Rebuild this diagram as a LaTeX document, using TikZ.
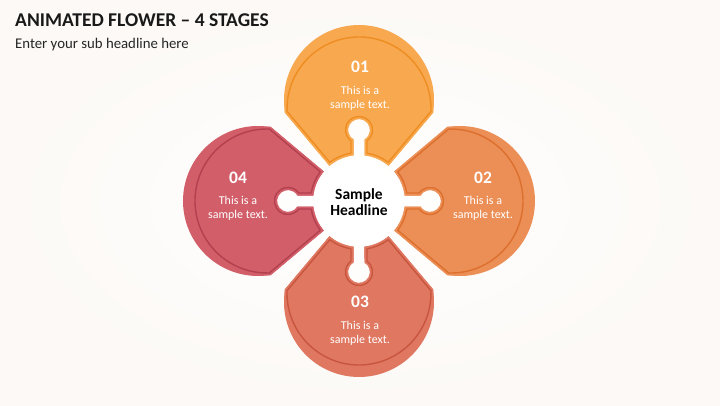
\documentclass[tikz,border=0pt]{standalone}
\usepackage{fontspec}
\setmainfont{Carlito}
\usepackage{tikz}
\definecolor{bgwarm}{HTML}{FCF9F6}
\definecolor{topfill}{HTML}{F8A84F}
\definecolor{topline}{HTML}{EE8D22}
\definecolor{rightfill}{HTML}{EC8F56}
\definecolor{rightline}{HTML}{DC6F2E}
\definecolor{botfill}{HTML}{DF7761}
\definecolor{botline}{HTML}{C8553E}
\definecolor{leftfill}{HTML}{D25E69}
\definecolor{leftline}{HTML}{B2404F}
\tikzset{
  ttl/.style    ={anchor=base west, inner sep=0pt, font=\fontsize{19.5}{22}\selectfont\bfseries, text=black!90},
  subttl/.style ={anchor=base west, inner sep=0pt, font=\fontsize{14.8}{17}\selectfont, text=black!85},
  numlbl/.style ={inner sep=0pt, font=\fontsize{17.5}{20}\selectfont\bfseries, text=white},
  bodylbl/.style={inner sep=0pt, align=center, font=\fontsize{12}{14}\selectfont, text=white},
  hub/.style    ={circle, fill=white, minimum size=86pt, inner sep=0pt, align=center,
                  font=\fontsize{15.5}{18}\selectfont\bfseries, text=black},
  rim/.style    ={line width=1.4pt, line join=round},
}
% one petal pointing up: outer circle at (0,#1) radius #2, inner cut inset by #3
\newcommand{\petal}[4]{%
  \pgfmathsetmacro\ptri{46+#3}%
  \pgfmathsetmacro\ptrh{11+#3}%
  \pgfmathsetmacro\pts{5.5+#3}%
  \pgfmathsetmacro\ptnx{#3*cos(140)}%
  \pgfmathsetmacro\ptny{#3*sin(140)}%
  \pgfmathsetmacro\ptQt{sqrt(\ptri*\ptri-#3*#3)}%
  \pgfmathsetmacro\ptQx{\ptnx+\ptQt*cos(50)}%
  \pgfmathsetmacro\ptQy{\ptny+\ptQt*sin(50)}%
  \pgfmathsetmacro\ptPt{#1*sin(50)+sqrt(#2*#2-(#1*cos(50)-#3)^2)}%
  \pgfmathsetmacro\ptPx{\ptnx+\ptPt*cos(50)}%
  \pgfmathsetmacro\ptPy{\ptny+\ptPt*sin(50)}%
  \pgfmathsetmacro\ptthP{atan2(\ptPy-#1,\ptPx)}%
  \pgfmathsetmacro\ptthPb{180-(\ptthP)}%
  \pgfmathsetmacro\ptthQ{atan2(\ptQy,\ptQx)}%
  \pgfmathsetmacro\ptthQb{180-(\ptthQ)}%
  \pgfmathsetmacro\ptsig{asin(\pts/\ptri)}%
  \pgfmathsetmacro\ptbet{asin(\pts/\ptrh)}%
  \pgfmathsetmacro\ptyb{71-\ptrh*cos(\ptbet)}%
  \pgfmathsetmacro\ptys{sqrt(\ptri*\ptri-\pts*\pts)}%
  \path[#4] (\ptPx,\ptPy) arc[start angle=\ptthP, end angle=\ptthPb, radius=#2pt]
    -- (-\ptQx,\ptQy) arc[start angle=\ptthQb, end angle=90+\ptsig, radius=\ptri pt]
    -- (-\pts,\ptyb) arc[start angle=270-\ptbet, end angle=-90+\ptbet, radius=\ptrh pt]
    -- (\pts,\ptys) arc[start angle=90-\ptsig, end angle=\ptthQ, radius=\ptri pt]
    -- cycle;%
}
\newcommand{\petalgroup}[3]{%
  \begin{scope}[rotate=#1]
    \petal{101}{75}{0}{fill=#2}
    \petal{92}{74.5}{0}{fill=#2}
    \petal{92}{72}{2.5}{draw=#3, rim}
  \end{scope}%
}

\begin{document}
\begin{tikzpicture}[x=1pt, y=1pt]
  \useasboundingbox (-359,-204) rectangle (361,201);
  \shade[inner color=white, outer color=bgwarm] (-359,-204) rectangle (361,201);

  \node[ttl]    (title) at (-344,174.3) {ANIMATED FLOWER – 4 STAGES};
  \node[subttl] (sub)   at (-344,152.7) {Enter your sub headline here};

  % petals
  \petalgroup{0}{topfill}{topline}
  \petalgroup{-90}{rightfill}{rightline}
  \petalgroup{180}{botfill}{botline}
  \petalgroup{90}{leftfill}{leftline}

  \node[hub] (head) at (0,-1) {Sample\\[-2pt]Headline};

  \node[numlbl]  (n1) at (1,134.3)  {01};
  \node[bodylbl] (t1) at (1,103)    {This is a\\sample text.};
  \node[numlbl]  (n2) at (124,23)   {02};
  \node[bodylbl] (t2) at (124,-7.7) {This is a\\sample text.};
  \node[numlbl]  (n3) at (1,-101)   {03};
  \node[bodylbl] (t3) at (1,-132.3) {This is a\\sample text.};
  \node[numlbl]  (n4) at (-121,23)  {04};
  \node[bodylbl] (t4) at (-121,-7.7){This is a\\sample text.};
\end{tikzpicture}
\end{document}
